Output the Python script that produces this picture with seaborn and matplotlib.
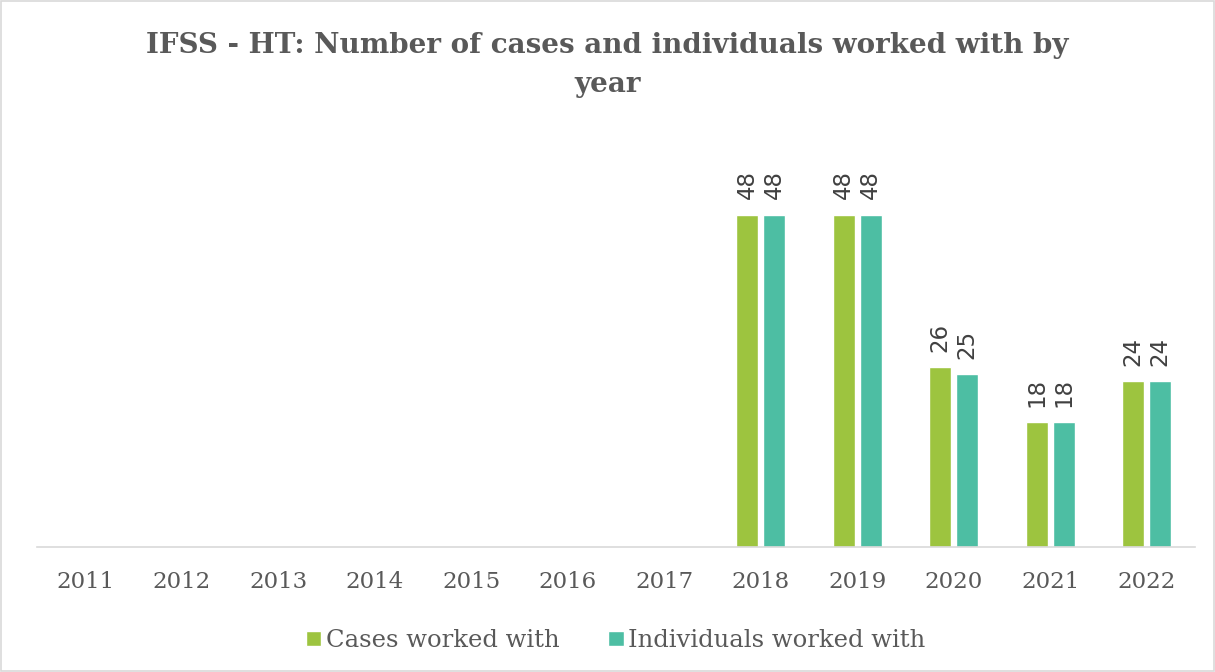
import numpy as np
import pandas as pd
import matplotlib
matplotlib.use("Agg")
import matplotlib.pyplot as plt
import seaborn as sns

years = ["2011", "2012", "2013", "2014", "2015", "2016", "2017", "2018", "2019", "2020", "2021", "2022"]
cases = [np.nan] * 7 + [48, 48, 26, 18, 24]
individuals = [np.nan] * 7 + [48, 48, 25, 18, 24]
series_names = ["Cases worked with", "Individuals worked with"]
colors = ["#9DC43F", "#4DBEA3"]

df = pd.DataFrame({
    "year": years * 2,
    "value": cases + individuals,
    "series": [series_names[0]] * len(years) + [series_names[1]] * len(years),
})

sns.set_style("white")
plt.rcParams["font.family"] = ["DejaVu Serif"]

fig = plt.figure(figsize=(12.15, 6.72), dpi=100)
ax = fig.add_axes([0.0305, 0.186, 0.953, 0.618])

sns.barplot(data=df, x="year", y="value", hue="series", order=years,
            hue_order=series_names, palette=colors, width=0.56, gap=0.18,
            saturation=1, ax=ax)

for cont in ax.containers:
    labels = ["" if np.isnan(v) else f"{int(v)}" for v in cont.datavalues]
    ax.bar_label(cont, labels=labels, rotation=90, padding=11, fontsize=16.5,
                 color="#404040", family="DejaVu Sans")

ax.set_xlim(-0.5, 11.5)
ax.set_ylim(0, 60)
ax.set_xlabel("")
ax.set_ylabel("")
ax.set_yticks([])
ax.tick_params(axis="x", length=0, labelsize=16.5, colors="#595959", pad=17)
for s in ["top", "right", "left"]:
    ax.spines[s].set_visible(False)
ax.spines["bottom"].set_color("#D9D9D9")
ax.spines["bottom"].set_linewidth(1.2)

leg = ax.legend(loc="center", bbox_to_anchor=(0.5, -0.225), ncol=2, frameon=False,
                fontsize=17.5, handlelength=0.62, handleheight=0.62, handletextpad=0.2,
                columnspacing=2.0)
for t in leg.get_texts():
    t.set_color("#595959")

fig.text(0.5, 0.903, "IFSS - HT: Number of cases and individuals worked with by\nyear",
         ha="center", va="center", fontsize=20, fontweight="heavy", color="#595959",
         linespacing=1.55)

fig.patches.append(plt.Rectangle((0.001, 0.001), 0.998, 0.998, transform=fig.transFigure,
                                 fill=False, edgecolor="#D9D9D9", linewidth=1.2))

fig.savefig("out.png", dpi=100, facecolor="white")
